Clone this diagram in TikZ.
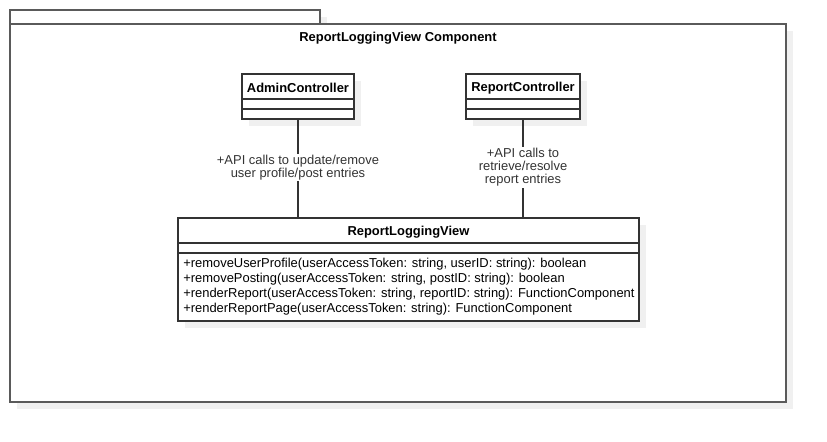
\documentclass[tikz,border=0pt]{standalone}
\usepackage{fontspec}
\setmainfont{Liberation Sans}
\usetikzlibrary{shadows}
\definecolor{framegray}{RGB}{90,90,90}
\definecolor{linegray}{RGB}{51,51,51}
\definecolor{shadegray}{RGB}{240,240,240}
\tikzset{
  shade/.style={drop shadow={shadow xshift=5.25pt,shadow yshift=-5.25pt,fill=shadegray,opacity=1}},
  package/.style={draw=framegray,line width=1.1pt,fill=white,shade,inner sep=0pt},
  classbox/.style={draw=linegray,line width=0.9pt,fill=white,shade,inner sep=0pt},
  classname/.style={font=\fontsize{9.7}{11}\selectfont\bfseries},
  note/.style={fill=white,align=center,inner sep=1pt,font=\fontsize{9.7}{9.75}\selectfont}
}
\begin{document}
\begin{tikzpicture}[x=0.75pt,y=-0.75pt]
  \useasboundingbox (0,0) rectangle (827,442);
  % package frame
  \node[package,minimum width=232.5pt,minimum height=10.5pt] (tab) at (165,17) {};
  \node[package,minimum width=582pt,minimum height=283.5pt] (pkg) at (398,213) {};
  \node[classname] (title) at (398,38.5) {ReportLoggingView Component};
  % controllers
  \node[classbox,minimum width=84pt,minimum height=33.75pt] (adm) at (298,96.5) {};
  \node[classbox,minimum width=85.5pt,minimum height=33.75pt] (rep) at (523,96.5) {};
  \node[classname] (admname) at (298,88) {AdminController};
  \node[classname] (repname) at (523,88) {ReportController};
  \foreach \c in {adm,rep} {
    \draw[linegray,line width=0.9pt] (\c.west |- 0,99) -- (\c.east |- 0,99);
    \draw[linegray,line width=0.9pt] (\c.west |- 0,109) -- (\c.east |- 0,109);
  }
  % view class
  \node[classbox,minimum width=345.75pt,minimum height=77.25pt] (view) at (408.5,269.5) {};
  \node[classname] (viewname) at (408.5,232) {ReportLoggingView};
  \draw[linegray,line width=0.9pt] (view.west |- 0,243) -- (view.east |- 0,243);
  \draw[linegray,line width=0.9pt] (view.west |- 0,253) -- (view.east |- 0,253);
  \node[anchor=west,align=left,inner sep=0pt,font=\fontsize{9.7}{11.25}\selectfont] (ops) at (183,286.5)
    {+removeUserProfile(userAccessToken: string, userID: string): boolean\\
     +removePosting(userAccessToken: string, postID: string): boolean\\
     +renderReport(userAccessToken: string, reportID: string): FunctionComponent\\
     +renderReportPage(userAccessToken: string): FunctionComponent};
  % connectors
  \draw[linegray,line width=0.9pt] (adm.south) -- (adm.south |- view.north)
    node[note,pos=0.49] {+API calls to update/remove\\user profile/post entries};
  \draw[linegray,line width=0.9pt] (rep.south) -- (rep.south |- view.north)
    node[note,pos=0.49] {+API calls to\\retrieve/resolve\\report entries};
\end{tikzpicture}
\end{document}
